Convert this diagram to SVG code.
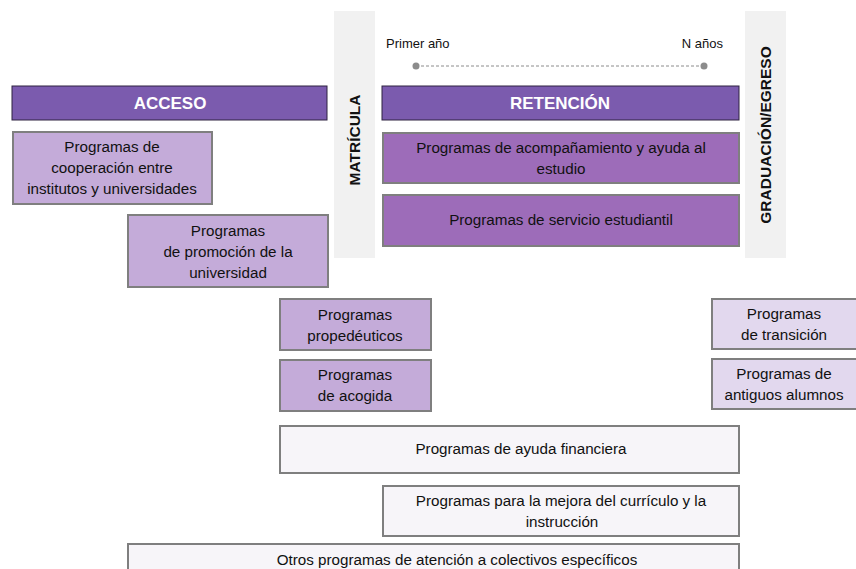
<svg xmlns="http://www.w3.org/2000/svg" width="856" height="569" viewBox="0 0 856 569">
<style>
text{font-family:"Liberation Sans",Arial,sans-serif;font-size:15.2px;fill:#111;text-anchor:middle}
.hdr{fill:#7b5bae;stroke:#2e2340;stroke-width:1}
.hdrt{fill:#fff;font-weight:bold;font-size:17px}
.col{fill:#f1f1f1}
.colt{font-weight:bold;font-size:15.5px}
.b1{fill:#c4abd9;stroke:#7f7f7f;stroke-width:2}
.b2{fill:#9d6cb9;stroke:#7f7f7f;stroke-width:2}
.b3{fill:#e2d8ee;stroke:#7f7f7f;stroke-width:2}
.b4{fill:#f7f5f9;stroke:#7f7f7f;stroke-width:2}
.small{font-size:13px}
</style>
<rect width="856" height="569" fill="#fff"/>
<g id="matricula">
<rect class="col" x="334" y="11" width="41" height="247"/>
<text class="colt" transform="translate(360,140) rotate(-90)">MATRÍCULA</text>
</g>
<g id="graduacion">
<rect class="col" x="745" y="11" width="41" height="247"/>
<text class="colt" transform="translate(771,135) rotate(-90)">GRADUACIÓN/EGRESO</text>
</g>
<g id="timeline">
<text class="small" x="386" y="48" style="text-anchor:start">Primer año</text>
<text class="small" x="723" y="48" style="text-anchor:end">N años</text>
</g>
<g id="connectors">
<line x1="416" y1="66" x2="704" y2="66" stroke="#8c8c8c" stroke-width="1" stroke-dasharray="3,2"/>
<circle cx="416" cy="66" r="3.5" fill="#8c8c8c"/>
<circle cx="704" cy="66" r="3.5" fill="#8c8c8c"/>
</g>
<g id="acceso">
<rect class="hdr" x="12" y="86" width="315" height="34"/>
<text class="hdrt" x="170" y="109">ACCESO</text>
</g>
<g id="retencion">
<rect class="hdr" x="382" y="86" width="357" height="34"/>
<text class="hdrt" x="560" y="109">RETENCIÓN</text>
</g>
<g id="cooperacion">
<rect class="b1" x="13" y="132" width="199" height="72"/>
<text x="112" y="152">Programas de</text>
<text x="112" y="173">cooperación entre</text>
<text x="112" y="194">institutos y universidades</text>
</g>
<g id="promocion">
<rect class="b1" x="128" y="215" width="200" height="72"/>
<text x="228" y="236">Programas</text>
<text x="228" y="257">de promoción de la</text>
<text x="228" y="278">universidad</text>
</g>
<g id="acompanamiento">
<rect class="b2" x="383" y="133" width="356" height="50"/>
<text x="561" y="153">Programas de acompañamiento y ayuda al</text>
<text x="561" y="174">estudio</text>
</g>
<g id="servicio">
<rect class="b2" x="383" y="195" width="356" height="51"/>
<text x="561" y="225">Programas de servicio estudiantil</text>
</g>
<g id="propedeuticos">
<rect class="b1" x="280" y="299" width="151" height="51"/>
<text x="355" y="320">Programas</text>
<text x="355" y="341">propedéuticos</text>
</g>
<g id="acogida">
<rect class="b1" x="280" y="360" width="151" height="51"/>
<text x="355" y="380">Programas</text>
<text x="355" y="401">de acogida</text>
</g>
<g id="transicion">
<rect class="b3" x="712" y="299" width="150" height="50"/>
<text x="784" y="319">Programas</text>
<text x="784" y="340">de transición</text>
</g>
<g id="antiguos">
<rect class="b3" x="712" y="359" width="150" height="50"/>
<text x="784" y="379">Programas de</text>
<text x="784" y="400">antiguos alumnos</text>
</g>
<g id="financiera">
<rect class="b4" x="280" y="426" width="459" height="47"/>
<text x="521" y="454">Programas de ayuda financiera</text>
</g>
<g id="curriculo">
<rect class="b4" x="383" y="486" width="356" height="50"/>
<text x="561" y="506">Programas para la mejora del currículo y la</text>
<text x="562" y="527">instrucción</text>
</g>
<g id="otros">
<rect class="b4" x="128" y="544" width="611" height="40"/>
<text x="457" y="565">Otros programas de atención a colectivos específicos</text>
</g>
</svg>
